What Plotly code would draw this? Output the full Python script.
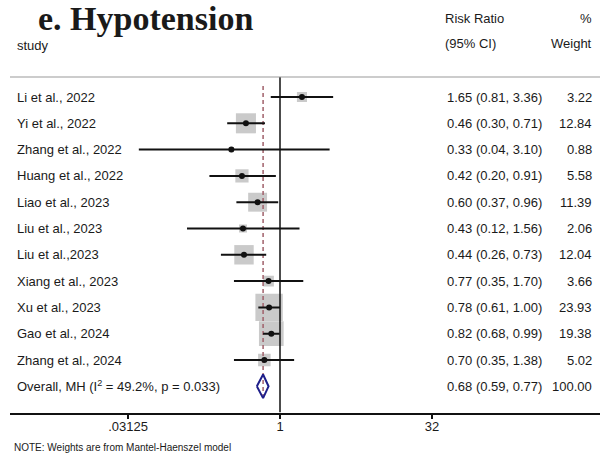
import plotly.graph_objects as go
import math

studies = ["Li et al., 2022", "Yi et al., 2022", "Zhang et al., 2022", "Huang et al., 2022",
           "Liao et al., 2023", "Liu et al., 2023", "Liu et al.,2023", "Xiang et al., 2023",
           "Xu et al., 2023", "Gao et al., 2024", "Zhang et al., 2024"]
rr = [1.65, 0.46, 0.33, 0.42, 0.60, 0.43, 0.44, 0.77, 0.78, 0.82, 0.70]
ci_lo = [0.81, 0.30, 0.04, 0.20, 0.37, 0.12, 0.26, 0.35, 0.61, 0.68, 0.35]
ci_hi = [3.36, 0.71, 3.10, 0.91, 0.96, 1.56, 0.73, 1.70, 1.00, 0.99, 1.38]
weights = [3.22, 12.84, 0.88, 5.58, 11.39, 2.06, 12.04, 3.66, 23.93, 19.38, 5.02]
overall_label = "Overall, MH (I<sup>2</sup> = 49.2%, p = 0.033)"
overall = [0.68, 0.59, 0.77]
overall_weight = 100.00
tick_vals = [1 / 32, 1, 32]
tick_text = [".03125", "1", "32"]

FONT = "Liberation Sans, Arial, sans-serif"
TXT = "#1a1a1a"
rows = list(range(len(studies)))
ov_row = len(studies)

W, H = 600, 454
row0_px, row_h = 97.0, 26.3
def px_to_row(p):
    return (p - row0_px) / row_h

px_per_log2 = 30.4
null_px = 280.0
def px_to_log10(p):
    return (p - null_px) / px_per_log2 * math.log10(2)

axis_row = 12
axis_px = row0_px + row_h * axis_row
left_px = 10

fig = go.Figure()

# boxes
fig.add_trace(go.Scatter(
    x=rr, y=rows, mode="markers",
    marker=dict(symbol="square", size=[5.6 * math.sqrt(w) for w in weights],
                color="#b4b4b4", line=dict(width=0)),
    hoverinfo="skip", showlegend=False))

# overall dashed line
fig.add_trace(go.Scatter(
    x=[overall[0], overall[0]], y=[px_to_row(86), px_to_row(399)], mode="lines",
    line=dict(color="#a0606a", width=1.5, dash="4px,3px"),
    hoverinfo="skip", showlegend=False))

# null line
fig.add_trace(go.Scatter(
    x=[1, 1], y=[px_to_row(77), axis_row], mode="lines",
    line=dict(color="#111", width=1.5), hoverinfo="skip", showlegend=False))

# CI lines
cx, cy = [], []
for lo, hi, r in zip(ci_lo, ci_hi, rows):
    cx += [lo, hi, None]
    cy += [r, r, None]
fig.add_trace(go.Scatter(x=cx, y=cy, mode="lines", line=dict(color="#111", width=2),
                         hoverinfo="skip", showlegend=False))

# point estimates
fig.add_trace(go.Scatter(x=rr, y=rows, mode="markers",
                         marker=dict(symbol="circle", size=6, color="#111"),
                         hoverinfo="skip", showlegend=False))

# overall diamond
dh = 0.45
fig.add_trace(go.Scatter(
    x=[overall[1], overall[0], overall[2], overall[0], overall[1]],
    y=[ov_row, ov_row - dh, ov_row, ov_row + dh, ov_row],
    mode="lines", line=dict(color="#1f1f8a", width=2),
    hoverinfo="skip", showlegend=False))

ann = []
def txt(x, y, s, anchor="left", size=13, yref="y", **kw):
    ann.append(dict(x=x / W, y=y, xref="paper", yref=yref, text=s, showarrow=False,
                    xanchor=anchor, yanchor="middle",
                    font=dict(family=kw.get("family", FONT), size=size, color=TXT)))

for i, s in enumerate(studies):
    txt(15, i, s)
    txt(445, i, f"{rr[i]:.2f} ({ci_lo[i]:.2f}, {ci_hi[i]:.2f})")
    txt(594, i, f"{weights[i]:.2f}", anchor="right")
txt(15, ov_row, overall_label)
txt(445, ov_row, f"{overall[0]:.2f} ({overall[1]:.2f}, {overall[2]:.2f})")
txt(594, ov_row, f"{overall_weight:.2f}", anchor="right")

def py(p):
    return 1 - p / H
txt(36, py(18.5), "<b>e. Hypotension</b>", size=34, yref="paper",
    family="Liberation Serif, Times New Roman, serif")
txt(15, py(45), "study", yref="paper")
txt(443, py(19), "Risk Ratio", yref="paper")
txt(443, py(44), "(95% CI)", yref="paper")
txt(594, py(19), "%", anchor="right", yref="paper")
txt(594, py(44), "Weight", anchor="right", yref="paper")
txt(12, py(447), "NOTE: Weights are from Mantel-Haenszel model", size=10, yref="paper")

fig.update_layout(
    width=W, height=H, margin=dict(l=0, r=0, t=0, b=0),
    paper_bgcolor="white", plot_bgcolor="white",
    annotations=ann,
    shapes=[dict(type="line", xref="paper", yref="y", x0=left_px / W, x1=1,
                 y0=px_to_row(77), y1=px_to_row(77), line=dict(color="#999", width=1))],
    xaxis=dict(type="log", domain=[left_px / W, 1],
               range=[px_to_log10(left_px), px_to_log10(W)],
               showgrid=False, zeroline=False, showline=True, linecolor="#111", linewidth=1.5,
               tickvals=tick_vals, ticktext=tick_text, ticks="outside", ticklen=5,
               tickwidth=1.5, tickcolor="#111", ticklabelstandoff=-4,
               tickfont=dict(family=FONT, size=13, color=TXT)),
    yaxis=dict(visible=False, domain=[(H - axis_px) / H, 1],
               range=[axis_row, px_to_row(0)]),
)
fig.write_html("out.html")
